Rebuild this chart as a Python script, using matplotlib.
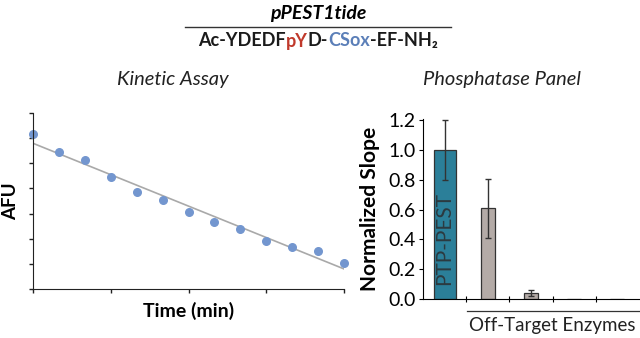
import numpy as np
import matplotlib
matplotlib.use("Agg")
import matplotlib.pyplot as plt
from matplotlib.lines import Line2D

plt.rcParams['font.family'] = ['Lato', 'DejaVu Sans']

# ---------------- Data ---------------- #

time_pts = [0, 1, 2, 3, 4, 5, 6, 7, 8, 9, 10, 11, 12]
afu_vals = [6.18, 5.45, 5.13, 4.45, 3.86, 3.55, 3.06, 2.66, 2.39, 1.90, 1.66, 1.52, 1.05]

enzymes = ["PTP-PEST", "E2", "E3", "E4", "E5"]
slopes = [1.0, 0.61, 0.04, 0.0, 0.0]
slope_err = [0.2, 0.2, 0.02, 0.0, 0.0]

seq_parts = [("Ac-YDEDF", "#1a1a1a"), ("pY", "#c0392b"), ("D-", "#1a1a1a"),
             ("CSox", "#5b7fb8"), ("-EF-NH\u2082", "#1a1a1a")]

# ---------------- Figure ---------------- #

fig = plt.figure(figsize=(6.4, 3.38), dpi=100)

# header
fig.text(318/640, 1 - 13/338, "pPEST1tide", ha="center", va="center",
         fontsize=14, fontstyle="italic", fontweight="bold")
fig.add_artist(Line2D([185/640, 451/640], [1 - 27/338, 1 - 27/338],
                      color="#333333", lw=1))

# multicolour sequence, pieces placed one after another
fig.canvas.draw()
renderer = fig.canvas.get_renderer()
texts = []
x = 0
for s, c in seq_parts:
    t = fig.text(x, 1 - 41/338, s, color=c, fontsize=13, fontweight="bold",
                 ha="left", va="center")
    fig.canvas.draw()
    w = t.get_window_extent(renderer).width / fig.bbox.width
    texts.append((t, w))
    x += w
start = 318/640 - x / 2
for t, w in texts:
    t.set_x(start)
    start += w

# ---------------- Kinetic assay ---------------- #

ax1 = fig.add_axes([33/640, 49/338, 311/640, 176/338])
coef = np.polyfit(time_pts, afu_vals, 1)
xfit = np.array([0, 12])
ax1.plot(xfit, np.polyval(coef, xfit), color="#a9a9a9", lw=1.2, zorder=1)
ax1.scatter(time_pts, afu_vals, s=30, color="#7396cf", zorder=2, clip_on=False)
ax1.set_xlim(0, 12)
ax1.set_ylim(0, 7)
ax1.set_xticks([0, 3, 6, 9, 12])
ax1.set_yticks(range(0, 8))
ax1.set_xticklabels([])
ax1.set_yticklabels([])
ax1.tick_params(direction="out", length=3, width=1, color="#222222")
for sp in ["top", "right"]:
    ax1.spines[sp].set_visible(False)
for sp in ["left", "bottom"]:
    ax1.spines[sp].set_color("#222222")
ax1.set_xlabel("Time (min)", fontsize=14, fontweight="bold")
ax1.set_ylabel("AFU", fontsize=13.5, fontweight="bold")
ax1.xaxis.set_label_coords(0.5, -0.072)
ax1.yaxis.set_label_coords(-0.045, 0.5)
fig.text(173/640, 1 - 80/338, "Kinetic Assay", ha="center", va="center",
         fontsize=14.5, fontstyle="italic", color="#222222")

# ---------------- Phosphatase panel ---------------- #

ax2 = fig.add_axes([423/640, 39/338, 216/640, 180/338])
xpos = np.arange(len(enzymes))
widths = [0.51, 0.32, 0.32, 0.32, 0.32]
colors = ["#2b7f99", "#b4aba7", "#b4aba7", "#b4aba7", "#b4aba7"]
ax2.bar(xpos, slopes, width=widths, color=colors, edgecolor="#333333", lw=0.9)
has_err = np.array(slope_err) > 0
ax2.errorbar(xpos[has_err], np.array(slopes)[has_err],
             yerr=np.array(slope_err)[has_err], fmt="none", ecolor="#333333",
             elinewidth=1, capsize=2, capthick=1)
ax2.set_xlim(-0.5, 4.5)
ax2.set_ylim(0, 1.21)
ax2.set_yticks(np.arange(0, 1.21, 0.2))
ax2.set_yticklabels([f"{v:.1f}" for v in np.arange(0, 1.21, 0.2)], fontsize=14)
ax2.set_xticks([0.5, 1.5, 2.5, 3.5])
ax2.set_xticklabels([])
ax2.tick_params(axis="y", direction="out", length=3, pad=2)
ax2.tick_params(axis="x", direction="inout", length=4)
for sp in ["top", "right"]:
    ax2.spines[sp].set_visible(False)
ax2.set_ylabel("Normalized Slope", fontsize=15, fontweight="bold")
ax2.yaxis.set_label_coords(-0.2, 0.5)
ax2.text(0, 0.41, enzymes[0], rotation=90, ha="center", va="center",
         fontsize=15, color="#2b3a40")
fig.text(502/640, 1 - 80/338, "Phosphatase Panel", ha="center", va="center",
         fontsize=14.5, fontstyle="italic", color="#222222")

fig.add_artist(Line2D([467/640, 640/640], [1 - 311/338, 1 - 311/338],
                      color="#333333", lw=0.9))
fig.text(552/640, 1 - 325/338, "Off-Target Enzymes", ha="center", va="center",
         fontsize=13.5, color="#222222")

fig.savefig("out.png", dpi=100)
